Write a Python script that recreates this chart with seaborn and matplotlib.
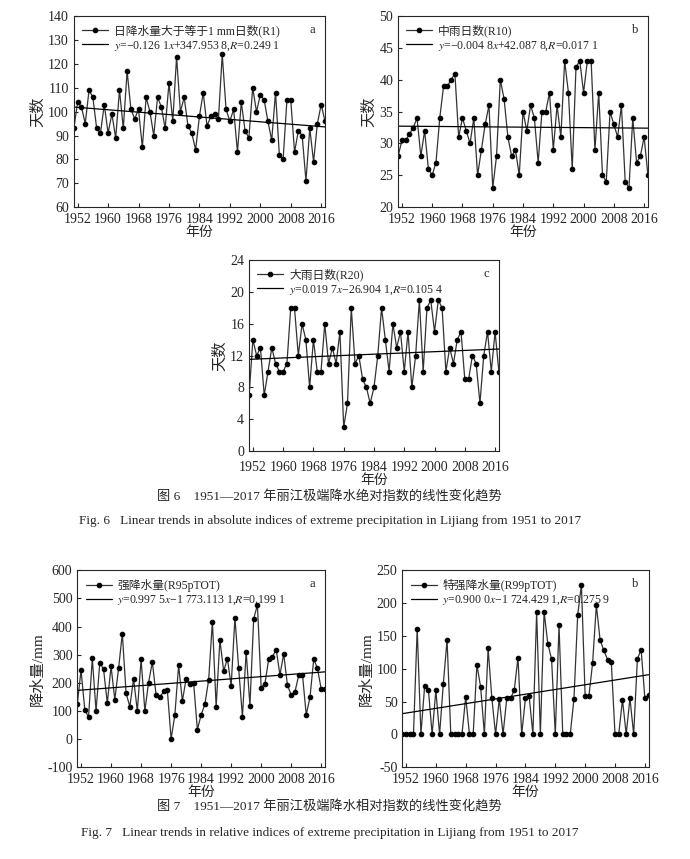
import numpy as np
import pandas as pd
import matplotlib
matplotlib.use('Agg')
import matplotlib.pyplot as plt
import seaborn as sns

# 年份 1951-2017
years = list(range(1951, 2018))

r1 = [93, 104, 102, 95, 109, 106, 93, 91, 103, 91, 99, 89, 109, 93, 117, 101, 97, 101, 85, 106,
      100, 90, 106, 102, 93, 112, 96, 123, 100, 106, 94, 91, 84, 98, 108, 94, 98, 99, 97, 124,
      101, 96, 101, 83, 104, 92, 89, 110, 100, 107, 105, 96, 88, 108, 82, 80, 105, 105, 83, 92,
      90, 71, 93, 79, 95, 103, 96]
r10 = [28, 30.5, 30.5, 31.5, 32.5, 34, 28, 32, 26, 25, 27, 34, 39, 39, 40, 41, 31, 34, 32, 30,
       34, 25, 29, 33, 36, 23, 28, 40, 37, 31, 28, 29, 25, 35, 32, 36, 34, 27, 35, 35,
       38, 29, 36, 31, 43, 38, 26, 42, 43, 38, 43, 43, 29, 38, 25, 24, 35, 33, 31, 36,
       24, 23, 34, 27, 28, 31, 25]
r20 = [7, 14, 12, 13, 7, 10, 13, 11, 10, 10, 11, 18, 18, 12, 16, 14, 8, 14, 10, 10,
       16, 11, 13, 11, 15, 3, 6, 18, 11, 12, 9, 8, 6, 8, 12, 18, 14, 10, 16, 13,
       15, 10, 15, 8, 12, 19, 10, 18, 19, 15, 19, 18, 10, 13, 11, 14, 15, 9, 9, 12,
       11, 6, 12, 15, 10, 15, 10]
r95 = [124, 245, 104, 78, 287, 100, 272, 248, 128, 258, 140, 251, 375, 163, 115, 214, 100, 284, 100, 201,
       274, 156, 148, 169, 173, 0, 86, 262, 135, 214, 195, 199, 33, 86, 124, 210, 418, 115, 352, 242,
       286, 189, 432, 251, 80, 310, 119, 428, 477, 182, 197, 284, 293, 318, 228, 303, 191, 157, 168, 227,
       229, 86, 148, 284, 251, 177, 177]
r99 = [0, 0, 0, 0, 161, 0, 74, 68, 0, 67, 0, 77, 144, 0, 0, 0, 0, 57, 0, 0,
       106, 72, 0, 131, 55, 0, 54, 0, 55, 55, 67, 117, 0, 55, 58, 0, 186, 0, 187, 138,
       115, 0, 166, 0, 0, 0, 54, 182, 228, 58, 58, 109, 197, 144, 128, 114, 111, 0, 0, 53,
       0, 55, 0, 115, 129, 55, 60]

# 趋势线系数 (斜率, 截距)
coef_r1 = (-0.1261, 347.9538)
coef_r10 = (-0.0048, 42.0878)
coef_r20 = (0.0197, -26.9041)
coef_r95 = (0.9975, -1773.1131)
coef_r99 = (0.9000, -1724.4291)

sns.set_style('ticks')
plt.rcParams['font.family'] = ['Liberation Serif', 'Noto Sans CJK SC']
plt.rcParams['mathtext.fontset'] = 'stix'
plt.rcParams['axes.unicode_minus'] = False

fig = plt.figure(figsize=(6.9, 8.59), dpi=100)


def panel(rect, vals, coef, label, eq, letter, ylim, yticks, ylabel, xpad=4.5):
    ax = fig.add_axes(rect)
    df = pd.DataFrame({'year': years, 'val': vals})
    sns.lineplot(ax=ax, data=df, x='year', y='val', color='#333333', lw=0.9,
                 marker='o', markersize=3.3, markerfacecolor='black',
                 markeredgecolor='black', label=label)
    yr = np.array([1951, 2017])
    sns.lineplot(ax=ax, x=yr, y=coef[0] * yr + coef[1], color='black', lw=0.9, label=eq)
    ax.set_xlim(1951, 2017)
    ax.set_ylim(*ylim)
    ax.set_xticks(range(1952, 2017, 8))
    ax.set_yticks(yticks)
    ax.tick_params(direction='in', labelsize=10, length=3, width=0.8)
    ax.tick_params(axis='x', pad=xpad)
    for s in ax.spines.values():
        s.set_linewidth(0.8)
    ax.set_xlabel('年份', fontsize=10, labelpad=0)
    ax.set_ylabel(ylabel, fontsize=11, labelpad=2)
    ax.legend(loc='upper left', frameon=False, fontsize=8.5, handlelength=2.2,
              borderaxespad=0.3, labelspacing=0.15, handletextpad=0.5)
    ax.text(0.96, 0.93, letter, transform=ax.transAxes, fontsize=9, ha='right', va='center')
    return ax


panel([0.107, 0.759, 0.364, 0.222], r1, coef_r1, '日降水量大于等于1 mm日数(R1)',
      '$y$=−0.126 1$x$+347.953 8,$R$=0.249 1', 'a', (60, 140), range(60, 141, 10), '天数')
panel([0.577, 0.759, 0.362, 0.222], r10, coef_r10, '中雨日数(R10)',
      '$y$=−0.004 8$x$+42.087 8,$R$=0.017 1', 'b', (20, 50), range(20, 51, 5), '天数')
panel([0.361, 0.475, 0.362, 0.222], r20, coef_r20, '大雨日数(R20)',
      '$y$=0.019 7$x$−26.904 1,$R$=0.105 4', 'c', (0, 24), range(0, 25, 4), '天数', xpad=7)
panel([0.112, 0.107, 0.359, 0.229], r95, coef_r95, '强降水量(R95pTOT)',
      '$y$=0.997 5$x$−1 773.113 1,$R$=0.199 1', 'a', (-100, 600), range(-100, 601, 100), '降水量/mm')
panel([0.583, 0.107, 0.357, 0.229], r99, coef_r99, '特强降水量(R99pTOT)',
      '$y$=0.900 0$x$−1 724.429 1,$R$=0.275 9', 'b', (-50, 250), range(-50, 251, 50), '降水量/mm')

fig.text(0.478, 1 - 497 / 859, '图 6　1951—2017 年丽江极端降水绝对指数的线性变化趋势',
         ha='center', va='center', fontsize=9.5)
fig.text(0.478, 1 - 521 / 859, 'Fig. 6   Linear trends in absolute indices of extreme precipitation in Lijiang from 1951 to 2017',
         ha='center', va='center', fontsize=9.5)
fig.text(0.478, 1 - 807 / 859, '图 7　1951—2017 年丽江极端降水相对指数的线性变化趋势',
         ha='center', va='center', fontsize=9.5)
fig.text(0.478, 1 - 833 / 859, 'Fig. 7   Linear trends in relative indices of extreme precipitation in Lijiang from 1951 to 2017',
         ha='center', va='center', fontsize=9.5)

fig.savefig('out.png', dpi=100)
